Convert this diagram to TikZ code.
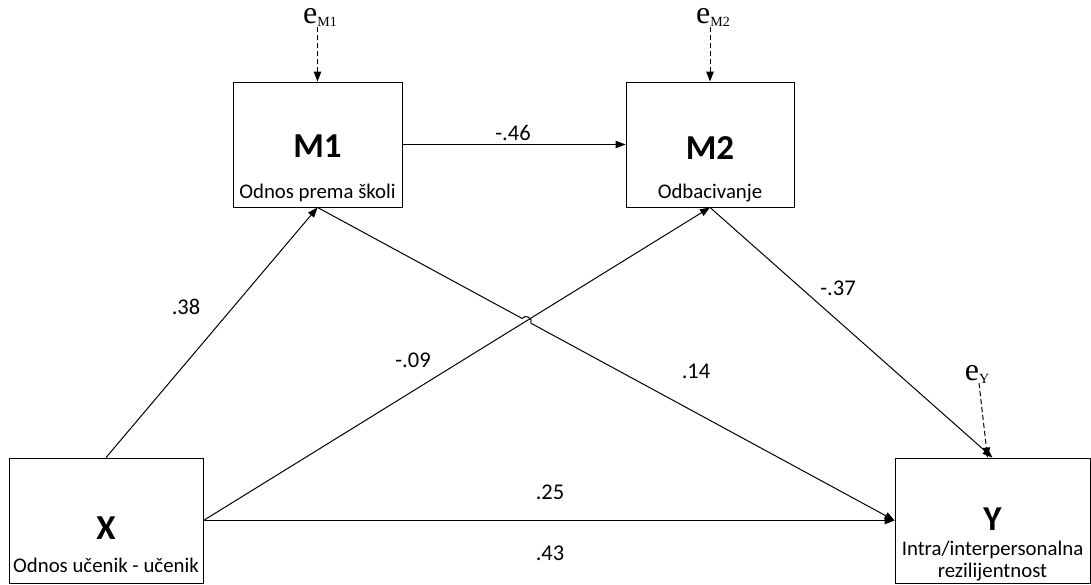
\documentclass[tikz,border=0pt]{standalone}
\usepackage{fontspec}
\setmainfont{Carlito}
\newfontfamily\serifE{Liberation Serif}
\usetikzlibrary{arrows.meta,calc}
\begin{document}
\begin{tikzpicture}[x=1pt,y=1pt,
  box/.style={draw,line width=0.9pt,minimum width=#1,minimum height=125pt,inner sep=0pt},
  title/.style={font=\fontsize{35}{35}\selectfont\bfseries,inner sep=0pt},
  sub/.style={font=\fontsize{20.8}{22}\selectfont,inner sep=0pt,align=center},
  lab/.style={font=\fontsize{22.5}{22.5}\selectfont,inner sep=0pt},
  conn/.style={line width=1pt,-{Triangle[length=10pt,width=7.5pt]}},
  errarr/.style={line width=1pt,dash pattern=on 5pt off 3pt,-{Triangle[length=10pt,width=7.5pt]}},
  err/.style={inner sep=0pt,anchor=base}
]
\useasboundingbox (0,0) rectangle (1091,584);
% boxes
\node[box=169pt] (M1) at (317.5,439.5) {};
\node[box=168pt] (M2) at (710,439.5) {};
\node[box=194pt] (X) at (106,63.5) {};
\node[box=195pt] (Y) at (992.5,63.5) {};
% box texts
\node[title] (M1t) at ($(M1.center)+(0,-2)$) {M1};
\node[sub] (M1s) at ($(M1.south)+(0,14)$) {Odnos prema školi};
\node[title] (M2t) at ($(M2.center)+(0,-3.5)$) {M2};
\node[sub] (M2s) at ($(M2.south)+(0,14)$) {Odbacivanje};
\node[title] (Xt) at ($(X.center)+(0,-7.5)$) {X};
\node[sub] (Xs) at ($(X.south)+(0,18)$) {Odnos učenik - učenik};
\node[title] (Yt) at ($(Y.center)+(0,1)$) {Y};
\node[sub] (Ys) at ($(Y.south)+(0,22)$) {Intra/interpersonalna\\rezilijentnost};
% error terms
\node[err] (eM1) at (320,560) {\serifE\fontsize{32}{32}\selectfont e\raisebox{-3pt}{\fontsize{14}{14}\selectfont M1}};
\node[err] (eM2) at (713,560) {\serifE\fontsize{32}{32}\selectfont e\raisebox{-3pt}{\fontsize{14}{14}\selectfont M2}};
\node[err] (eY) at (977,204) {\serifE\fontsize{32}{32}\selectfont e\raisebox{-3pt}{\fontsize{14}{14}\selectfont Y}};
\draw[errarr] (eM1.south -| M1.north) -- (M1.north);
\draw[errarr] (eM2.south -| M2.north) -- (M2.north);
\coordinate (eYs) at ($(eY.south)+(2,0)$);
\draw[errarr] (eYs) -- ($(Y.north)+(-5,0)$);
% paths
\draw[conn] (M1.east) -- (M2.west);
\draw[conn] (X.north) -- (M1.south);
\draw[conn] (X.east) -- (M2.south);
\draw[conn] (X.east) -- (Y.west);
\draw[conn] (M2.south) -- (Y.north);
\coordinate (cr) at (intersection of X.east--M2.south and M1.south--Y.west);
\coordinate (h1) at ($(cr)!5pt!(M1.south)$);
\coordinate (h2) at ($(cr)!-5pt!(M1.south)$);
\draw[line width=1pt] (M1.south) -- (h1) to[bend left=90,looseness=1.4] (h2);
\draw[conn] (h2) -- (Y.west);
% labels
\node[lab] (l46) at (513,451) {-.46};
\node[lab] (l38) at (186,277) {.38};
\node[lab] (l09) at (413,224) {-.09};
\node[lab] (l14) at (696,213) {.14};
\node[lab] (l37) at (838,296) {-.37};
\node[lab] (l25) at (550,92) {.25};
\node[lab] (l43) at (550,31) {.43};
\end{tikzpicture}
\end{document}
